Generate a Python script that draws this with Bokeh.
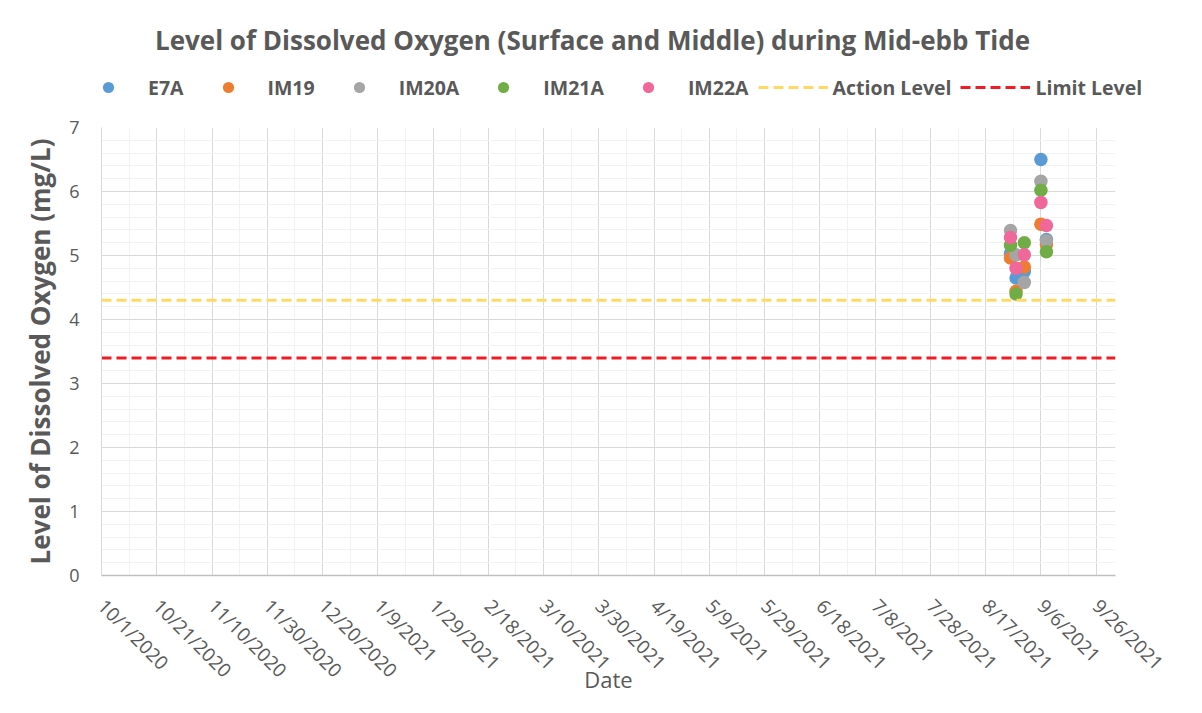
import math
from datetime import datetime, timedelta
from bokeh.plotting import figure
from bokeh.layouts import column
from bokeh.models import (FixedTicker, CustomJSTickFormatter, Legend, LegendItem,
                          Range1d, Label)
from bokeh.embed import file_html
from bokeh.resources import INLINE

# ---------------- data ----------------
stations = ["E7A", "IM19", "IM20A", "IM21A", "IM22A"]
station_colors = ["#5B9BD5", "#ED7D31", "#A5A5A5", "#70AD47", "#F0679A"]
sample_dates = ["8/26/2021", "8/28/2021", "8/31/2021", "9/6/2021", "9/8/2021"]
e7a = [5.03, 4.65, 4.75, 6.50, 5.25]
im19 = [4.96, 4.44, 4.82, 5.49, 5.17]
im20a = [5.39, 5.01, 4.58, 6.16, 5.23]
im21a = [5.16, 4.40, 5.20, 6.02, 5.06]
im22a = [5.28, 4.80, 5.01, 5.83, 5.47]
action_level = 4.3
limit_level = 3.4
level_names = ["Action Level", "Limit Level"]
level_colors = ["#FFD966", "#EE1C25"]
tick_labels = ["10/1/2020", "10/21/2020", "11/10/2020", "11/30/2020", "12/20/2020",
               "1/9/2021", "1/29/2021", "2/18/2021", "3/10/2021", "3/30/2021",
               "4/19/2021", "5/9/2021", "5/29/2021", "6/18/2021", "7/8/2021",
               "7/28/2021", "8/17/2021", "9/6/2021", "9/26/2021"]
x_start_label = "10/1/2020"
x_end_label = "10/3/2021"
y_ticks = [0, 1, 2, 3, 4, 5, 6, 7]

TITLE = "Level of Dissolved Oxygen (Surface and Middle) during Mid-ebb Tide"
TEXT = "#595959"
FONT = "Open Sans"
W = 1186
HEAD_H = 110
MAIN_H = 587


def parse(s):
    return datetime.strptime(s, "%m/%d/%Y")


def ms(d):
    return (d - datetime(1970, 1, 1)).total_seconds() * 1000.0


x0 = parse(x_start_label)
x1 = parse(x_end_label)
xdates = [parse(s) for s in sample_dates]
major_x = [ms(parse(s)) for s in tick_labels]
minor_x = [ms(parse(s) + timedelta(days=10)) for s in tick_labels]

# ---------------- main chart ----------------
p = figure(width=W, height=MAIN_H, x_axis_type="datetime",
           x_range=Range1d(x0, x1), y_range=Range1d(y_ticks[0], y_ticks[-1]),
           output_backend="svg", toolbar_location=None,
           min_border_left=101, min_border_right=71,
           min_border_top=17, min_border_bottom=120)
p.frame_align = False
p.outline_line_color = None
p.background_fill_color = "white"
p.border_fill_color = "white"

p.xaxis.ticker = FixedTicker(ticks=major_x, minor_ticks=minor_x)
p.xaxis.formatter = CustomJSTickFormatter(code="""
const d = new Date(tick);
return (d.getUTCMonth() + 1) + "/" + d.getUTCDate() + "/" + d.getUTCFullYear();
""")
p.yaxis.ticker = FixedTicker(ticks=y_ticks,
                             minor_ticks=[i / 5 for i in range(0, 36)])
for ax in (p.xaxis[0], p.yaxis[0]):
    ax.major_tick_line_color = None
    ax.minor_tick_line_color = None
    ax.major_tick_out = 0
    ax.major_tick_in = 0
    ax.minor_tick_out = 0
    ax.minor_tick_in = 0
    ax.major_label_text_font = FONT
    ax.major_label_text_color = TEXT
    ax.axis_label_text_font = FONT
    ax.axis_label_text_color = TEXT

p.xaxis.axis_line_color = "#BFBFBF"
p.xaxis.axis_line_width = 1.5
p.yaxis.axis_line_color = "#D9D9D9"
p.xaxis.major_label_orientation = -math.pi / 4
p.xaxis.major_label_text_font_size = "19px"
p.xaxis.major_label_standoff = 27
p.xaxis.axis_label = "Date"
p.xaxis.axis_label_text_font_size = "22px"
p.xaxis.axis_label_text_font_style = "normal"
p.xaxis.axis_label_standoff = -31

p.yaxis.major_label_text_font_size = "18px"
p.yaxis.major_label_standoff = 22
p.yaxis.axis_label = "Level of Dissolved Oxygen (mg/L)"
p.yaxis.axis_label_text_font_size = "26px"
p.yaxis.axis_label_text_font_style = "bold"
p.yaxis.axis_label_standoff = 8

p.xgrid.grid_line_color = "#D9D9D9"
p.xgrid.minor_grid_line_color = "#F2F2F2"
p.ygrid.grid_line_color = "#D9D9D9"
p.ygrid.minor_grid_line_color = "#F2F2F2"

series = [e7a, im19, im20a, im21a, im22a]
for color, vals in zip(station_colors, series):
    p.scatter(x=xdates, y=vals, size=13.5, fill_color=color, line_color=None)
for lvl, color in zip([action_level, limit_level], level_colors):
    p.line(x=[x0, x1], y=[lvl, lvl], line_color=color, line_width=3, line_dash="10 5")

# ---------------- header: title + legend ----------------
head = figure(width=W, height=HEAD_H, x_range=Range1d(0, 1), y_range=Range1d(0, 1),
              x_axis_location=None, y_axis_location=None,
              output_backend="svg", toolbar_location=None,
              min_border=0, min_border_left=0, min_border_right=0,
              min_border_top=0, min_border_bottom=0)
head.frame_align = False
head.grid.visible = False
head.outline_line_color = None
head.background_fill_color = "white"
head.border_fill_color = "white"

nan = float("nan")
items = []
for name, color in zip(stations, station_colors):
    r = head.scatter(x=[nan], y=[nan], size=13.5, fill_color=color, line_color=None)
    items.append(LegendItem(label=name, renderers=[r]))
for name, color in zip(level_names, level_colors):
    r = head.line(x=[nan, nan], y=[nan, nan], line_color=color, line_width=3,
                  line_dash="10 5")
    items.append(LegendItem(label=name, renderers=[r]))

legend = Legend(items=items, orientation="horizontal", location=(73, 9),
                glyph_width=70, glyph_height=28, label_height=20,
                label_standoff=5, spacing=9, padding=0, margin=0,
                background_fill_alpha=0, border_line_color=None,
                label_text_font=FONT, label_text_font_style="bold",
                label_text_font_size="19.5px", label_text_color=TEXT)
head.add_layout(legend)

head.add_layout(Label(x=592, y=71, x_units="screen", y_units="screen", text=TITLE,
                      text_align="center", text_baseline="middle",
                      text_font=FONT, text_font_style="bold",
                      text_font_size="26px", text_color=TEXT))

layout = column(head, p, spacing=0)
open("out.html", "w").write(file_html(layout, INLINE))
